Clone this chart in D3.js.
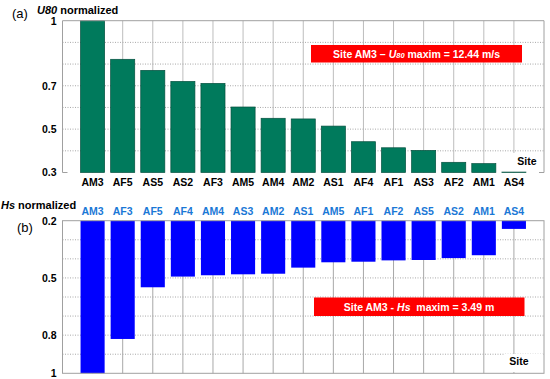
<!DOCTYPE html>
<html>
<head>
<meta charset="utf-8">
<script src="https://cdn.jsdelivr.net/npm/d3@7"></script>
<style>
  body { margin: 0; background: #fff; }
  svg { display: block; font-family: Arial, "Liberation Sans", sans-serif; }
</style>
</head>
<body>
<svg id="svg1" width="550" height="379"></svg>
<script>
// panel (a) wind speed at 80 m, normalized
var sitesA = ['AM3','AF5','AS5','AS2','AF3','AM5','AM4','AM2','AS1','AF4','AF1','AS3','AF2','AM1','AS4'];
var valuesA = [1.0, 0.822, 0.771, 0.720, 0.711, 0.602, 0.550, 0.547, 0.514, 0.442, 0.414, 0.402, 0.347, 0.341, 0.302];
var ticksA = [0.3, 0.5, 0.7, 1];
var gridA = [0.4, 0.5, 0.6, 0.7, 0.8, 0.9];

// panel (b) significant wave height, normalized
var sitesB = ['AM3','AF3','AF5','AF4','AM4','AS3','AM2','AS1','AM5','AF1','AF2','AS5','AS2','AM1','AS4'];
var valuesB = [1.0, 0.82, 0.549, 0.493, 0.486, 0.481, 0.478, 0.446, 0.418, 0.415, 0.408, 0.406, 0.396, 0.381, 0.243];
var ticksB = [0.2, 0.5, 0.8, 1];
var gridB = [0.3, 0.4, 0.5, 0.6, 0.7, 0.8, 0.9];

var svg = d3.select('svg');

var x = d3.scaleLinear().domain([0, 16]).range([62.5, 544]);
var barW = (x(1) - x(0)) * 0.8;

//---------------- panel (a)
var yA = d3.scaleLinear().domain([0.3, 1]).range([172.5, 20.7]);
var gA = svg.append('g');

gA.selectAll('.vgrid').data(sitesA).enter().append('line')
    .attr('x1', function(d, i){ return x(i + 1); })
    .attr('x2', function(d, i){ return x(i + 1); })
    .attr('y1', yA(1)).attr('y2', yA(0.3))
    .attr('stroke', '#bdbdbd').attr('stroke-width', 1);

gA.selectAll('.hgrid').data(gridA).enter().append('line')
    .attr('x1', x(0)).attr('x2', x(16))
    .attr('y1', function(d){ return yA(d); })
    .attr('y2', function(d){ return yA(d); })
    .attr('stroke', '#a8a8a8').attr('stroke-dasharray', '1,1.5');

// white patch behind "Site"
gA.append('rect').attr('x', 502).attr('y', 153).attr('width', 41).attr('height', 19).attr('fill', '#fff');

gA.selectAll('.bar').data(valuesA).enter().append('rect')
    .attr('x', function(d, i){ return x(i + 1) - barW / 2; })
    .attr('y', function(d){ return yA(d); })
    .attr('width', barW)
    .attr('height', function(d){ return yA(0.3) - yA(d); })
    .attr('fill', '#007a5c')
    .attr('stroke', '#05513f').attr('stroke-width', 0.7);

// frame: left, top, right
gA.append('path')
    .attr('d', 'M' + x(0) + ',' + yA(0.3) + 'V' + yA(1) + 'H' + x(16) + 'V' + yA(0.3))
    .attr('fill', 'none').attr('stroke', '#a0a0a0');
gA.append('line').attr('x1', x(0)).attr('x2', x(0) + 5).attr('y1', yA(0.3)).attr('y2', yA(0.3)).attr('stroke', '#a0a0a0');
gA.append('line').attr('x1', x(16)).attr('x2', x(16) - 5).attr('y1', yA(0.3)).attr('y2', yA(0.3)).attr('stroke', '#a0a0a0');

var axA = gA.append('g')
    .attr('transform', 'translate(' + (x(0) - 3) + ',0)')
    .call(d3.axisLeft(yA).tickValues(ticksA).tickSize(0).tickFormat(d3.format('')));
axA.select('.domain').remove();
axA.selectAll('text').attr('font-size', 10.5).attr('font-weight', 'bold').attr('fill', '#000')
    .attr('font-family', 'Arial, "Liberation Sans", sans-serif');

gA.selectAll('.lab').data(sitesA).enter().append('text')
    .attr('x', function(d, i){ return x(i + 1); })
    .attr('y', 186)
    .attr('text-anchor', 'middle')
    .attr('font-size', 10.5).attr('font-weight', 'bold').attr('fill', '#000')
    .text(function(d){ return d; });

gA.append('text').attr('x', 527).attr('y', 165).attr('text-anchor', 'middle')
    .attr('font-size', 10.5).attr('font-weight', 'bold').text('Site');

var tA = gA.append('text').attr('x', 37).attr('y', 14).attr('font-size', 11).attr('font-weight', 'bold');
tA.append('tspan').attr('font-style', 'italic').text('U80');
tA.append('tspan').text(' normalized');

gA.append('text').attr('x', 12).attr('y', 18).attr('font-size', 13).text('(a)');

gA.append('rect').attr('x', 311).attr('y', 45).attr('width', 211).attr('height', 17.5).attr('fill', '#ff0000');
var nA = gA.append('text').attr('x', 416.5).attr('y', 57.5).attr('text-anchor', 'middle')
    .attr('font-size', 10.5).attr('font-weight', 'bold').attr('fill', '#fff');
nA.append('tspan').text('Site AM3 – ');
nA.append('tspan').attr('font-style', 'italic').text('U');
nA.append('tspan').attr('font-style', 'italic').attr('font-size', 7.5).text('80');
nA.append('tspan').text(' maxim = 12.44 m/s');

//---------------- panel (b)
var yB = d3.scaleLinear().domain([0.2, 1]).range([220.7, 373.3]);
var gB = svg.append('g');

gB.selectAll('.vgrid').data(sitesB).enter().append('line')
    .attr('x1', function(d, i){ return x(i + 1); })
    .attr('x2', function(d, i){ return x(i + 1); })
    .attr('y1', yB(0.2)).attr('y2', yB(1))
    .attr('stroke', '#a8a8a8').attr('stroke-width', 1);

gB.selectAll('.hgrid').data(gridB).enter().append('line')
    .attr('x1', x(0)).attr('x2', x(16))
    .attr('y1', function(d){ return yB(d); })
    .attr('y2', function(d){ return yB(d); })
    .attr('stroke', '#a8a8a8').attr('stroke-dasharray', '1,1.5');

gB.append('rect').attr('x', 504).attr('y', 354).attr('width', 39).attr('height', 18).attr('fill', '#fff');

gB.selectAll('.bar').data(valuesB).enter().append('rect')
    .attr('x', function(d, i){ return x(i + 1) - barW / 2; })
    .attr('y', yB(0.2))
    .attr('width', barW)
    .attr('height', function(d){ return yB(d) - yB(0.2); })
    .attr('fill', '#0000ff');

gB.append('rect')
    .attr('x', x(0)).attr('y', yB(0.2))
    .attr('width', x(16) - x(0)).attr('height', yB(1) - yB(0.2))
    .attr('fill', 'none').attr('stroke', '#a0a0a0');

var axB = gB.append('g')
    .attr('transform', 'translate(' + (x(0) - 3) + ',0)')
    .call(d3.axisLeft(yB).tickValues(ticksB).tickSize(0).tickFormat(d3.format('')));
axB.select('.domain').remove();
axB.selectAll('text').attr('font-size', 10.5).attr('font-weight', 'bold').attr('fill', '#000')
    .attr('font-family', 'Arial, "Liberation Sans", sans-serif');

gB.selectAll('.lab').data(sitesB).enter().append('text')
    .attr('x', function(d, i){ return x(i + 1); })
    .attr('y', 215)
    .attr('text-anchor', 'middle')
    .attr('font-size', 10.5).attr('font-weight', 'bold').attr('fill', '#1a78d6')
    .text(function(d){ return d; });

gB.append('text').attr('x', 519).attr('y', 365).attr('text-anchor', 'middle')
    .attr('font-size', 10.5).attr('font-weight', 'bold').text('Site');

var tB = gB.append('text').attr('x', 1).attr('y', 209).attr('font-size', 11).attr('font-weight', 'bold');
tB.append('tspan').attr('font-style', 'italic').text('Hs');
tB.append('tspan').text(' normalized');

gB.append('text').attr('x', 17).attr('y', 232).attr('font-size', 13).text('(b)');

gB.append('rect').attr('x', 314).attr('y', 297.5).attr('width', 210.5).attr('height', 18.5).attr('fill', '#ff0000');
var nB = gB.append('text').attr('x', 419).attr('y', 310.5).attr('text-anchor', 'middle')
    .attr('font-size', 10.5).attr('font-weight', 'bold').attr('fill', '#fff')
    .attr('xml:space', 'preserve');
nB.append('tspan').text('Site AM3 - ');
nB.append('tspan').attr('font-style', 'italic').text('Hs');
nB.append('tspan').text('  maxim = 3.49 m');
</script>
</body>
</html>
